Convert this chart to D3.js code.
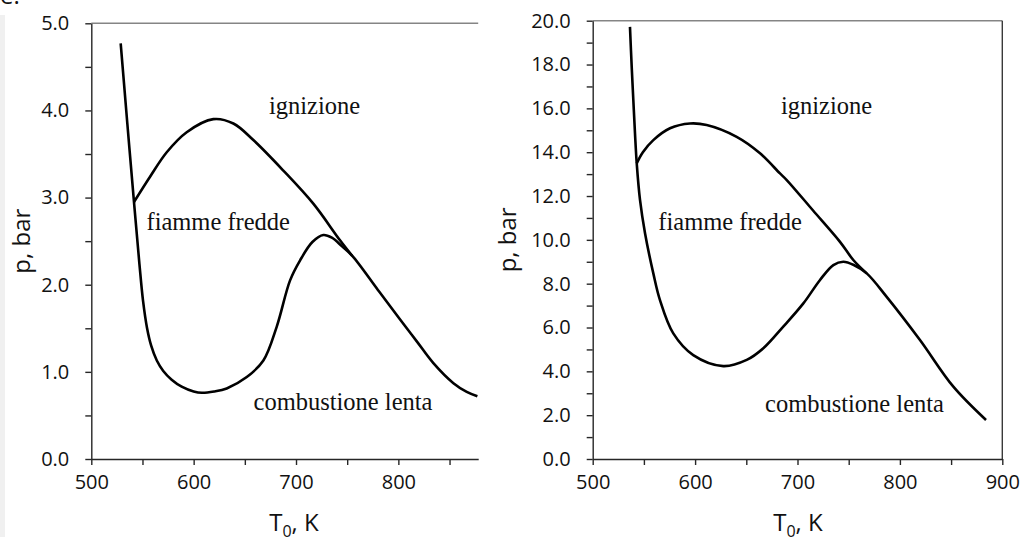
<!DOCTYPE html>
<html>
<head>
<meta charset="utf-8">
<script src="https://cdn.jsdelivr.net/npm/d3@7"></script>
<style>
  html, body { margin: 0; padding: 0; background: #fff; }
  svg { display: block; }
  .tick text { font-family: "Open Sans", sans-serif; font-size: 20px; fill: #111; }
  .region { font-family: "Liberation Serif", serif; font-size: 24.5px; fill: #111; }
  .title { font-family: "Open Sans", sans-serif; font-size: 24px; fill: #111; }
</style>
</head>
<body>
<svg id="chart" width="1020" height="537"></svg>
<script>
// ---- Left panel: pressure up to 5 bar ----
const leftMainT = [528.7, 535.2, 541.7, 547.0, 550.5, 554.5, 558.5, 564, 570.3, 578.5, 588.3, 600, 608, 620, 632.3, 651.9, 668.1, 681.2, 694.2, 704, 716, 726.7, 735, 745, 755, 780, 801.7, 818, 834.2, 853.8, 866.8, 877.2];
const leftMainP = [4.77, 3.85, 2.95, 2.24, 1.82, 1.50, 1.30, 1.13, 1.01, 0.91, 0.83, 0.775, 0.76, 0.775, 0.81, 0.94, 1.13, 1.52, 2.05, 2.28, 2.49, 2.57, 2.54, 2.44, 2.33, 1.94, 1.60, 1.35, 1.10, 0.87, 0.77, 0.72];
const leftCoolT = [541.7, 557.4, 573.7, 593.2, 619.2, 638.8, 658.3, 687.6, 716.9, 743, 755];
const leftCoolP = [2.95, 3.24, 3.52, 3.75, 3.90, 3.85, 3.66, 3.31, 2.93, 2.51, 2.33];
const leftYMajor = [0, 1, 2, 3, 4, 5];
const leftYMinor = [0.5, 1.5, 2.5, 3.5, 4.5];
const leftXMajor = [500, 600, 700, 800];
const leftXMinor = [550, 650, 750, 850];

// ---- Right panel: pressure up to 20 bar ----
const rightMainT = [536.4, 538.1, 539.7, 541.3, 543.0, 546.2, 551.1, 559.2, 565.7, 578.7, 598.2, 627.5, 650.4, 666.6, 686.1, 705.7, 722.0, 735.0, 744.7, 755, 767.6, 787.1, 819.6, 852.2, 884.1];
const rightMainP = [19.72, 17.88, 16.36, 14.86, 13.49, 11.82, 10.30, 8.47, 7.25, 5.73, 4.74, 4.24, 4.52, 5.05, 6.04, 7.10, 8.17, 8.85, 9.00, 8.85, 8.47, 7.40, 5.43, 3.30, 1.78];
const rightCoolT = [543.0, 549, 559.2, 575.5, 595.0, 611.3, 640.6, 663.4, 682.9, 689.5, 715, 741.5, 754.5, 767.6];
const rightCoolP = [13.49, 14.0, 14.55, 15.09, 15.31, 15.24, 14.70, 13.95, 13.03, 12.73, 11.35, 9.91, 9.08, 8.47];
const rightYMajor = [0, 2, 4, 6, 8, 10, 12, 14, 16, 18, 20];
const rightYMinor = [1, 3, 5, 7, 9, 11, 13, 15, 17, 19];
const rightXMajor = [500, 600, 700, 800, 900];
const rightXMinor = [550, 650, 750, 850];

// Region names placed at (T, p) of the text's left baseline point
const regionNames = ["ignizione", "fiamme fredde", "combustione lenta"];
const leftNameT = [673.6, 553.9, 658.5];
const leftNameP = [3.96, 2.63, 0.56];
const rightNameT = [683.9, 564.1, 668.3];
const rightNameP = [15.74, 10.45, 2.16];

const svg = d3.select("#chart");

// thin grey strip at the left edge and a clipped caption fragment
svg.append("rect").attr("x", 0).attr("y", 15).attr("width", 5).attr("height", 522).attr("fill", "#f0f0f0");
svg.append("text").attr("x", 0).attr("y", 3.5)
  .attr("font-family", "Open Sans, sans-serif").attr("font-size", 24).attr("fill", "#111").text("e.");

const AXIS = "#262626";
const fmt = d3.format(".1f");

function drawPanel(cfg) {
  const x = d3.scaleLinear().domain(cfg.xDomain).range(cfg.xRange);
  const y = d3.scaleLinear().domain(cfg.yDomain).range([459, cfg.yTop]);
  const g = svg.append("g");
  const [x0, x1] = cfg.xRange;

  // frame lines
  g.append("line").attr("x1", x0).attr("x2", x1).attr("y1", y(cfg.yDomain[1])).attr("y2", y(cfg.yDomain[1]))
    .attr("stroke", "#858585").attr("stroke-width", 1.4);
  if (cfg.rightBorder) {
    g.append("line").attr("x1", x1).attr("x2", x1).attr("y1", y(cfg.yDomain[1])).attr("y2", y(0))
      .attr("stroke", "#3a3a3a").attr("stroke-width", 1.4);
  }

  // y axis
  g.append("g").attr("transform", `translate(${x0},0)`)
    .call(d3.axisLeft(y).tickValues(cfg.yMajor).tickSize(6).tickSizeOuter(0).tickPadding(16).tickFormat(fmt));
  const gy2 = g.append("g").attr("transform", `translate(${x0},0)`)
    .call(d3.axisLeft(y).tickValues(cfg.yMinor).tickSize(6).tickFormat(""));
  gy2.select(".domain").remove();

  // x axis
  g.append("g").attr("transform", `translate(0,${y(0)})`)
    .call(d3.axisBottom(x).tickValues(cfg.xMajor).tickSize(6).tickSizeOuter(0).tickPadding(10).tickFormat(d3.format("d")));
  const gx2 = g.append("g").attr("transform", `translate(0,${y(0)})`)
    .call(d3.axisBottom(x).tickValues(cfg.xMinor).tickSize(6).tickFormat(""));
  gx2.select(".domain").remove();

  g.selectAll(".domain, .tick line").attr("stroke", AXIS).attr("stroke-width", 1.4);
  g.selectAll(".tick text").attr("font-family", null).attr("font-size", null);

  // boundary curves
  const line = d3.line().x(d => x(d[0])).y(d => y(d[1])).curve(d3.curveCatmullRom.alpha(0.5));
  [d3.zip(cfg.mainT, cfg.mainP), d3.zip(cfg.coolT, cfg.coolP)].forEach(pts => {
    g.append("path").attr("d", line(pts)).attr("fill", "none")
      .attr("stroke", "#000").attr("stroke-width", 2.6).attr("stroke-linejoin", "round").attr("stroke-linecap", "butt");
  });

  // region names
  regionNames.forEach((name, i) => {
    g.append("text").attr("class", "region")
      .attr("x", x(cfg.nameT[i])).attr("y", y(cfg.nameP[i])).text(name);
  });

  // axis titles
  g.append("text").attr("class", "title")
    .attr("transform", `translate(${cfg.yTitleX},${(y(0) + y(cfg.yDomain[1])) / 2}) rotate(-90)`)
    .attr("text-anchor", "middle").text("p, bar");

  const tt = g.append("text").attr("class", "title")
    .attr("x", cfg.xTitleX).attr("y", 531).attr("text-anchor", "middle");
  tt.append("tspan").text("T");
  tt.append("tspan").attr("font-size", 16).attr("dy", 6).text("0");
  tt.append("tspan").attr("dy", -6).text(", K");
}

drawPanel({
  xDomain: [500, 878], xRange: [91.3, 478.2],
  yDomain: [0, 5], yTop: 23.3,
  yMajor: leftYMajor, yMinor: leftYMinor, xMajor: leftXMajor, xMinor: leftXMinor,
  mainT: leftMainT, mainP: leftMainP, coolT: leftCoolT, coolP: leftCoolP,
  nameT: leftNameT, nameP: leftNameP,
  yTitleX: 30, xTitleX: 294, rightBorder: false
});

drawPanel({
  xDomain: [500, 900], xRange: [592.7, 1002.3],
  yDomain: [0, 20], yTop: 20.7,
  yMajor: rightYMajor, yMinor: rightYMinor, xMajor: rightXMajor, xMinor: rightXMinor,
  mainT: rightMainT, mainP: rightMainP, coolT: rightCoolT, coolP: rightCoolP,
  nameT: rightNameT, nameP: rightNameP,
  yTitleX: 516, xTitleX: 798, rightBorder: true
});
</script>
</body>
</html>
